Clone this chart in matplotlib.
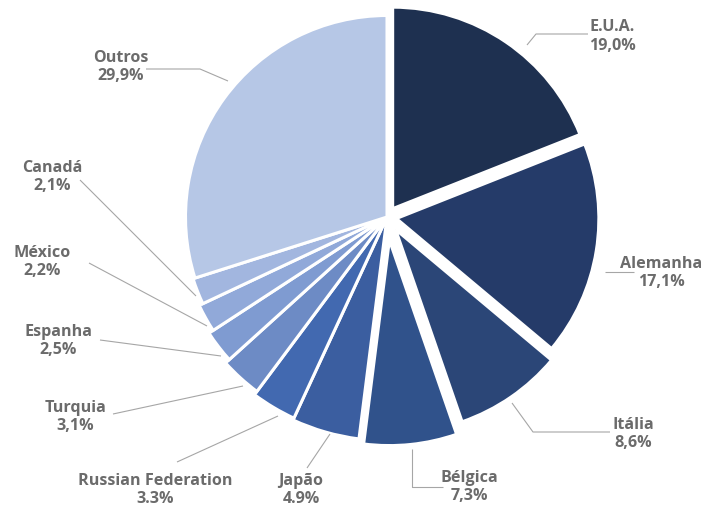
import matplotlib
matplotlib.use("Agg")
import matplotlib.pyplot as plt

categories = ["E.U.A.", "Alemanha", "Itália", "Bélgica", "Japão", "Russian Federation",
              "Turquia", "Espanha", "México", "Canadá", "Outros"]
values = [19.0, 17.1, 8.6, 7.3, 4.9, 3.3, 3.1, 2.5, 2.2, 2.1, 29.9]
value_labels = ["19,0%", "17,1%", "8,6%", "7,3%", "4.9%", "3.3%", "3,1%", "2,5%", "2,2%", "2,1%", "29,9%"]
colors = ["#1e3050", "#253b69", "#2b4677", "#30528b", "#3b5ea0", "#4269b0",
          "#6d8bc5", "#7f9bd1", "#91a9d9", "#a2b6df", "#b6c7e6"]
# style: radial explode (fraction of base radius) and per-slice radius scale
explode = [0.05, 0.047, 0.075, 0.115, 0, 0, 0, 0, 0, 0, 0]
radius_scale = [1.0, 1.005, 1.01, 1.02, 1.11, 1.10, 1.08, 1.055, 1.03, 1.01, 1.0]

W, H = 702, 506
fig = plt.figure(figsize=(W / 100, H / 100), dpi=100)
ax = fig.add_axes([0, 0, 1, 1])

cx, cy, r = 387, 218, 201.5
wedges, _ = ax.pie(values, colors=colors, startangle=90, counterclock=False,
                   explode=[e * r for e in explode],
                   center=(cx, H - cy), radius=r, frame=True,
                   wedgeprops=dict(edgecolor="white", linewidth=2.2))
for w, s in zip(wedges, radius_scale):
    w.set_radius(r * s)
ax.set_xlim(0, W)
ax.set_ylim(0, H)
ax.set_aspect("equal")
ax.axis("off")

# label layout: (text block center x, y), leader polyline (pixel coords, y down)
layout = {
    "E.U.A.": ((612, 36.5), [(527, 46), (536, 35), (588, 35)]),
    "Alemanha": ((661, 273), [(605, 273), (634, 273)]),
    "Itália": ((633, 434), [(512, 404), (533, 433), (610, 433)]),
    "Bélgica": ((469.5, 487), [(412, 450), (412, 488), (443, 488)]),
    "Japão": ((301, 490), [(330, 435), (307, 469)]),
    "Russian Federation": ((155, 490), [(278, 417), (177, 463)]),
    "Turquia": ((75.5, 417), [(243, 387), (113, 415)]),
    "Espanha": ((58, 341), [(221, 357), (100, 341)]),
    "México": ((42, 262), [(207, 327), (89, 264)]),
    "Canadá": ((52, 177), [(196, 297), (80, 181)]),
    "Outros": ((121, 67), [(228, 82), (200, 70), (146, 70)]),
}

font = ["Open Sans", "DejaVu Sans"]
for cat, vl in zip(categories, value_labels):
    (tx, ty), pts = layout[cat]
    xs = [p[0] for p in pts]
    ys = [H - p[1] for p in pts]
    ax.plot(xs, ys, color="#a6a6a6", linewidth=0.8, solid_capstyle="butt")
    ax.text(tx, H - ty, cat + "\n" + vl, ha="center", va="center", fontsize=11.6,
            fontweight="bold", color="#6b6b6b", family=font, linespacing=1.2)

fig.savefig("out.png", dpi=100, facecolor="white")
